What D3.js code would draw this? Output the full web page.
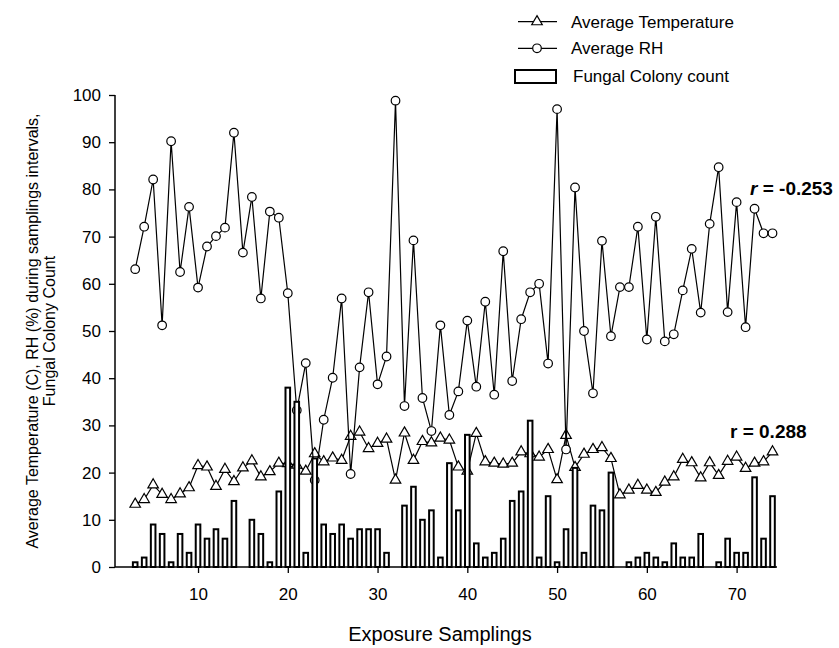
<!DOCTYPE html>
<html><head><meta charset="utf-8">
<script src="https://cdn.jsdelivr.net/npm/d3@7/dist/d3.min.js"></script>
<style>body{margin:0;background:#fff}svg{display:block}text{font-family:Arial,"Liberation Sans",sans-serif}</style>
</head><body><svg id="c" width="839" height="648"></svg>
<script>
const samples = [3,4,5,6,7,8,9,10,11,12,13,14,15,16,17,18,19,20,21,22,23,24,25,26,27,28,29,30,31,32,33,34,35,36,37,38,39,40,41,42,43,44,45,46,47,48,49,50,51,52,53,54,55,56,57,58,59,60,61,62,63,64,65,66,67,68,69,70,71,72,73,74];
const avgTemp = [13.3,14.3,17.4,15.4,14.3,15.5,16.8,21.5,21.2,17.1,20.7,18.1,21.0,22.5,19.1,20.2,22.0,21.9,21.6,20.3,24.0,22.3,23.1,22.6,27.7,28.6,25.1,26.2,27.1,18.4,28.4,22.6,26.6,26.3,27.3,26.9,21.2,20.3,28.3,22.3,22.0,21.8,22.0,24.4,24.0,23.3,24.9,18.5,27.9,21.1,23.9,24.9,25.3,23.0,15.3,16.3,17.3,16.3,15.8,18.0,19.1,22.8,22.1,18.9,22.1,19.4,22.4,23.3,20.9,22.0,22.3,24.4];
const avgRH = [63.1,72.1,82.1,51.2,90.2,62.5,76.3,59.2,67.9,70.1,71.9,92.0,66.6,78.4,56.9,75.3,74.0,58.0,33.2,43.2,18.4,31.2,40.1,56.9,19.7,42.3,58.2,38.7,44.6,98.8,34.1,69.2,35.8,28.8,51.2,32.2,37.2,52.2,38.2,56.2,36.5,66.9,39.4,52.5,58.2,60.0,43.1,97.0,24.9,80.4,50.0,36.8,69.1,48.9,59.3,59.3,72.1,48.2,74.2,47.8,49.3,58.6,67.4,53.9,72.7,84.7,54.0,77.3,50.8,75.9,70.7,70.7];
const colonyCount = [1,2,9,7,1,7,3,9,6,8,6,14,0,10,7,1,16,38,35,3,23,9,7,9,6,8,8,8,3,0,13,17,10,12,2,22,12,28,5,2,3,6,14,16,31,2,15,1,8,21,3,13,12,20,0,1,2,3,2,1,5,2,2,7,0,1,6,3,3,19,6,15];
const yTicks = [0,10,20,30,40,50,60,70,80,90,100];
const xTicks = [10,20,30,40,50,60,70];
const legendLabels = ["Average Temperature","Average RH","Fungal Colony count"];
const rLabels = ["r = -0.253","r = 0.288"];

const svg = d3.select("#c");
const x = d3.scaleLinear().domain([0.75, 74.5]).range([115, 777]);
const y = d3.scaleLinear().domain([0, 100]).range([567, 95]);

const data = samples.map((s,i)=>({s, t:avgTemp[i], rh:avgRH[i], c:colonyCount[i]}));

// lines
const lineT = d3.line().x(d=>x(d.s)).y(d=>y(d.t));
const lineRH = d3.line().x(d=>x(d.s)).y(d=>y(d.rh));
svg.append("path").attr("d", lineT(data)).attr("fill","none").attr("stroke","#000").attr("stroke-width",1.2);
const tri = d3.symbol().type(d3.symbolTriangle).size(48);
svg.append("g").selectAll("path").data(data).join("path")
  .attr("d", tri).attr("transform", d=>`translate(${x(d.s)},${y(d.t)})`)
  .attr("fill","#fff").attr("stroke","#000").attr("stroke-width",1.2);
svg.append("path").attr("d", lineRH(data)).attr("fill","none").attr("stroke","#000").attr("stroke-width",1.2);
svg.append("g").selectAll("circle").data(data).join("circle")
  .attr("cx", d=>x(d.s)).attr("cy", d=>y(d.rh)).attr("r",4.3)
  .attr("fill","#fff").attr("stroke","#000").attr("stroke-width",1.2);

// bars on top
const bw = 4.6;
svg.append("g").selectAll("rect").data(data.filter(d=>d.c>0)).join("rect")
  .attr("x", d=>x(d.s)-bw/2).attr("width", bw)
  .attr("y", d=>y(d.c)).attr("height", d=>y(0)-y(d.c))
  .attr("fill","#fff").attr("stroke","#000").attr("stroke-width",2);

// axes
const yAxis = svg.append("g").attr("transform","translate(115,0)")
  .call(d3.axisLeft(y).tickValues(yTicks).tickSize(6).tickPadding(8).tickFormat(d3.format("d")));
const xAxis = svg.append("g").attr("transform","translate(0,567)")
  .call(d3.axisBottom(x).tickValues(xTicks).tickSize(6).tickPadding(15).tickFormat(d3.format("d")));
[yAxis,xAxis].forEach(a=>{
  a.select(".domain").attr("stroke","#000").attr("stroke-width",1.5).attr("d", a===yAxis ? "M0,95V567" : "M115,0H777");
  a.selectAll(".tick line").attr("stroke","#000").attr("stroke-width",1.3);
  a.selectAll(".tick text").attr("fill","#000").style("font-size","17px").style("font-family","Arial, 'Liberation Sans', sans-serif");
});

// axis titles
svg.append("text").attr("x", (115+777)/2 - 6).attr("y", 641).attr("text-anchor","middle")
  .style("font-size","20px").text("Exposure Samplings");
const yt = svg.append("text").attr("transform","translate(38,331) rotate(-90)").attr("text-anchor","middle").style("font-size","16px");
yt.append("tspan").attr("x",0).attr("y",0).text("Average Temperature (C),  RH (%) during samplings intervals,");
yt.append("tspan").attr("x",0).attr("y",17).text("Fungal Colony Count");

// legend
const lg = svg.append("g");
[21.7, 48.3].forEach((ly,i)=>{
  lg.append("line").attr("x1",518).attr("x2",557).attr("y1",ly).attr("y2",ly).attr("stroke","#000").attr("stroke-width",1.2);
  if(i===0) lg.append("path").attr("d",tri).attr("transform",`translate(537,${ly})`).attr("fill","#fff").attr("stroke","#000").attr("stroke-width",1.2);
  else lg.append("circle").attr("cx",537).attr("cy",ly).attr("r",4.3).attr("fill","#fff").attr("stroke","#000").attr("stroke-width",1.2);
  lg.append("text").attr("x",571).attr("y",ly).attr("dy","0.35em").style("font-size","17px").text(legendLabels[i]);
});
lg.append("rect").attr("x",515).attr("y",70).attr("width",41).attr("height",13).attr("fill","#fff").attr("stroke","#000").attr("stroke-width",2);
lg.append("text").attr("x",573).attr("y",76.5).attr("dy","0.35em").style("font-size","17px").text(legendLabels[2]);

// r annotations
const r1 = svg.append("text").attr("x",750).attr("y",195).style("font-size","19px").style("font-weight","bold");
r1.append("tspan").style("font-style","italic").text("r");
r1.append("tspan").text(rLabels[0].slice(1));
svg.append("text").attr("x",730).attr("y",438).style("font-size","19px").style("font-weight","bold").text(rLabels[1]);
</script></body></html>
